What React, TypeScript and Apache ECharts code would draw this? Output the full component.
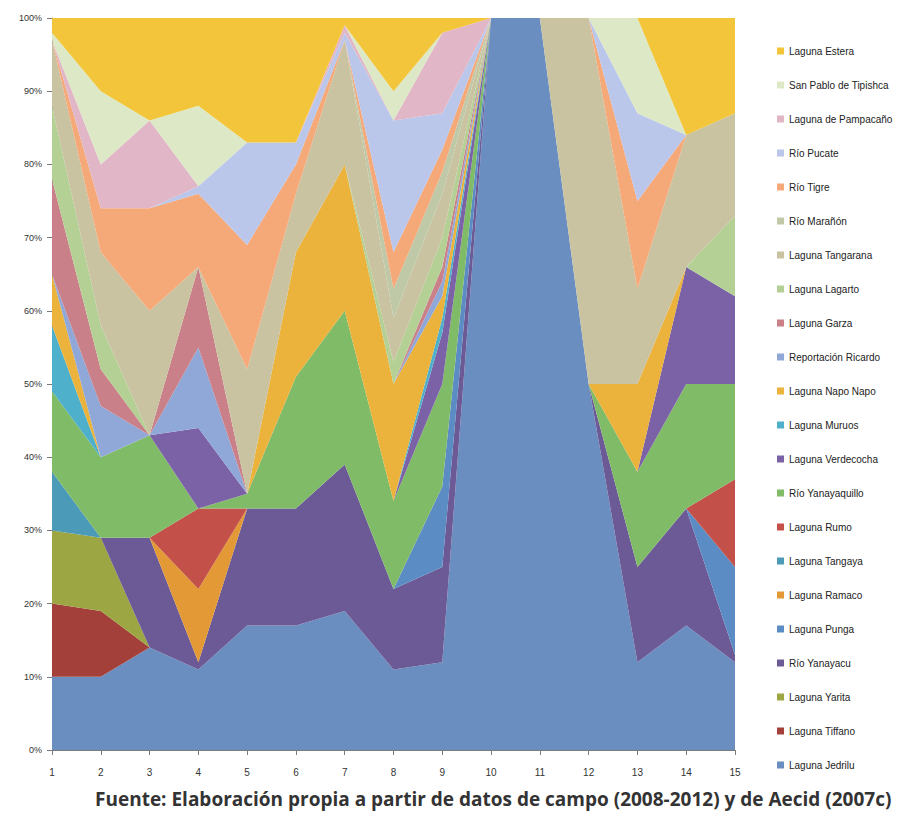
import React, { useEffect, useRef } from "react";
import * as echarts from "echarts";

const categories = ["1","2","3","4","5","6","7","8","9","10","11","12","13","14","15"];

// bottom of the stack first
const seriesNames = [
  "Laguna Jedrilu", "Laguna Tiffano", "Laguna Yarita", "Río Yanayacu", "Laguna Punga",
  "Laguna Ramaco", "Laguna Tangaya", "Laguna Rumo", "Río Yanayaquillo", "Laguna Verdecocha",
  "Laguna Muruos", "Laguna Napo Napo", "Reportación Ricardo", "Laguna Garza", "Laguna Lagarto",
  "Laguna Tangarana", "Río Marañón", "Río Tigre", "Río Pucate", "Laguna de Pampacaño",
  "San Pablo de Tipishca", "Laguna Estera",
];

const jedrilu       = [10, 10, 14, 11, 17, 17, 19, 11, 12, 100, 100, 50, 12, 17, 12];
const tiffano       = [10,  9,  0,  0,  0,  0,  0,  0,  0,   0,   0,  0,  0,  0,  0];
const yarita        = [10, 10,  0,  0,  0,  0,  0,  0,  0,   0,   0,  0,  0,  0,  0];
const yanayacu      = [ 0,  0, 15,  1, 16, 16, 20, 11, 13,   0,   0,  0, 13, 16,  1];
const punga         = [ 0,  0,  0,  0,  0,  0,  0,  0, 11,   0,   0,  0,  0,  0, 12];
const ramaco        = [ 0,  0,  0, 10,  0,  0,  0,  0,  0,   0,   0,  0,  0,  0,  0];
const tangaya       = [ 8,  0,  0,  0,  0,  0,  0,  0,  0,   0,   0,  0,  0,  0,  0];
const rumo          = [ 0,  0,  0, 11,  0,  0,  0,  0,  0,   0,   0,  0,  0,  0, 12];
const yanayaquillo  = [11, 11, 14,  0,  2, 18, 21, 12, 14,   0,   0,  0, 13, 17, 13];
const verdecocha    = [ 0,  0,  0, 11,  0,  0,  0,  0,  7,   0,   0,  0,  0, 16, 12];
const muruos        = [ 9,  0,  0,  0,  0,  0,  0,  0,  2,   0,   0,  0,  0,  0,  0];
const napoNapo      = [ 7,  0,  0,  0,  0, 17, 20, 16,  3,   0,   0,  0, 12,  0,  0];
const reportacion   = [ 0,  7,  0, 11,  0,  0,  0,  0,  2,   0,   0,  0,  0,  0,  0];
const garza         = [13,  5,  0, 11,  0,  0,  0,  0,  2,   0,   0,  0,  0,  0,  0];
const lagarto       = [10,  6,  0,  0,  0,  0,  0,  3,  4,   0,   0,  0,  0,  0, 11];
const tangarana     = [ 9, 10, 17,  0, 17,  8, 17,  6,  6,   0,   0, 50, 13, 18, 14];
const maranon       = [ 0,  0,  0,  0,  0,  0,  0,  4,  3,   0,   0,  0,  0,  0,  0];
const tigre         = [ 0,  6, 14, 10, 17,  4,  0,  5,  3,   0,   0,  0, 12,  0,  0];
const pucate        = [ 0,  0,  0,  1, 14,  3,  1, 18,  5,   0,   0,  0, 12,  0,  0];
const pampacano     = [ 0,  6, 12,  0,  0,  0,  1,  0, 11,   0,   0,  0,  0,  0,  0];
const sanPablo      = [ 1, 10,  0, 11,  0,  0,  0,  4,  0,   0,   0,  0, 13,  0,  0];
const estera        = [ 2, 10, 14, 12, 17, 17,  1, 10,  2,   0,   0,  0,  0, 16, 13];

const seriesValues = [
  jedrilu, tiffano, yarita, yanayacu, punga, ramaco, tangaya, rumo, yanayaquillo, verdecocha,
  muruos, napoNapo, reportacion, garza, lagarto, tangarana, maranon, tigre, pucate, pampacano,
  sanPablo, estera,
];

const colors = [
  "#6a8ec0", "#a4403a", "#9ca642", "#6c5a96", "#5b8cc4",
  "#e39a36", "#4b9ab8", "#c4504a", "#80bb68", "#7b62a6",
  "#4fb0cc", "#ebb23c", "#90a8d8", "#c98088", "#b5d095",
  "#c9c3a1", "#bfc9a8", "#f5a878", "#bac6ea", "#e1b6c6",
  "#dce8c6", "#f2c53a",
];

const yTicks = [0, 10, 20, 30, 40, 50, 60, 70, 80, 90, 100];

export default function App() {
  const ref = useRef<HTMLDivElement>(null);

  useEffect(() => {
    if (!ref.current) return;
    const chart = echarts.init(ref.current, undefined, { renderer: "svg" });

    const totals = categories.map((_, i) =>
      seriesValues.reduce((s, arr) => s + arr[i], 0)
    );

    const series = seriesNames.map((name, k) => ({
      name,
      type: "line" as const,
      stack: "total",
      data: seriesValues[k].map((v, i) => (v / totals[i]) * 100),
      symbol: "none",
      showSymbol: false,
      lineStyle: { width: 0 },
      areaStyle: { color: colors[k], opacity: 1 },
      itemStyle: { color: colors[k] },
    }));

    const font = "'Liberation Sans', Arial, sans-serif";

    chart.setOption({
      animation: false,
      backgroundColor: "#ffffff",
      grid: { left: 52, right: 166, top: 18, bottom: 68, containLabel: false },
      xAxis: {
        type: "category",
        data: categories,
        boundaryGap: false,
        axisLine: { lineStyle: { color: "#7a7a7a", width: 1 } },
        axisTick: { show: true, alignWithLabel: true, length: 5, lineStyle: { color: "#7a7a7a" } },
        axisLabel: { color: "#333", fontSize: 10, fontFamily: font, margin: 17 },
        splitLine: { show: false },
      },
      yAxis: {
        type: "value",
        min: 0,
        max: 100,
        interval: 10,
        axisLine: { show: true, lineStyle: { color: "#7a7a7a", width: 1 } },
        axisTick: { show: true, length: 5, lineStyle: { color: "#7a7a7a" } },
        axisLabel: {
          color: "#333",
          fontSize: 9,
          fontFamily: font,
          margin: 10,
          formatter: (v: number) => (yTicks.includes(v) ? `${v}%` : ""),
        },
        splitLine: { show: false },
      },
      legend: {
        orient: "vertical",
        left: 772,
        top: 40,
        data: [...seriesNames].reverse(),
        icon: "rect",
        itemWidth: 7,
        itemHeight: 7,
        itemGap: 22,
        textStyle: { color: "#222", fontSize: 10, fontFamily: font, lineHeight: 12 },
        selectedMode: false,
      },
      graphic: [
        {
          type: "text",
          left: 95,
          top: 789,
          style: {
            text: "Fuente: Elaboración propia a partir de datos de campo (2008-2012) y de Aecid (2007c)",
            fontSize: 19,
            fontWeight: "bold",
            fontFamily: "'Open Sans', sans-serif",
            fill: "#333",
          },
        },
      ],
      series,
    });

    return () => chart.dispose();
  }, []);

  return (
    <div
      ref={ref}
      style={{ position: "fixed", left: 0, top: 0, width: 901, height: 818, background: "#fff" }}
    />
  );
}
